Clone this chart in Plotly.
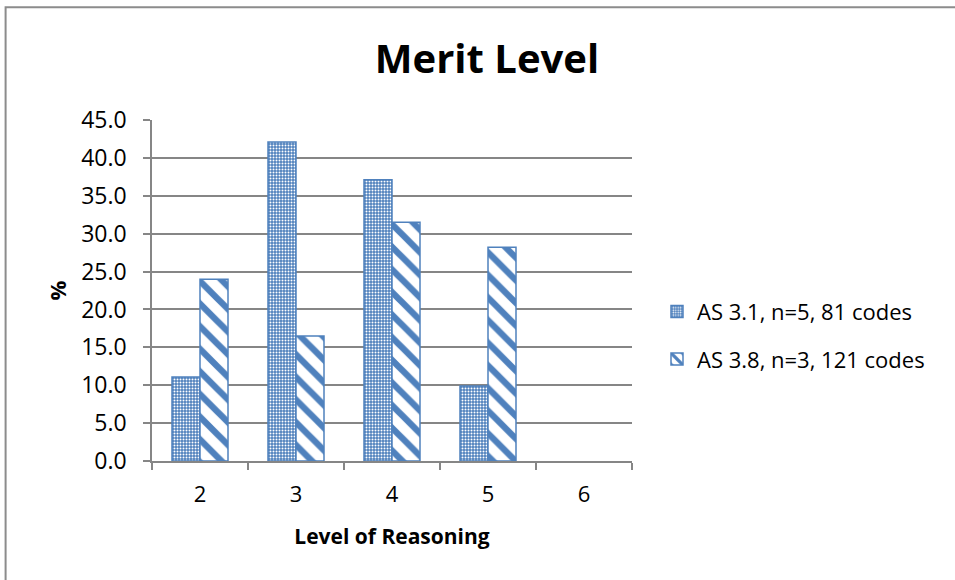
import plotly.graph_objects as go

# Share of codes at each level of reasoning (%)
levels = ["2", "3", "4", "5", "6"]
as31_values = [11.1, 42.1, 37.1, 9.9, None]
as38_values = [24.0, 16.5, 31.5, 28.2, None]
series_names = ["AS 3.1, n=5, 81 codes", "AS 3.8, n=3, 121 codes"]
y_ticks = [0, 5, 10, 15, 20, 25, 30, 35, 40, 45]

BLUE = "#4F81BD"
GRID = "#868686"
FONT = "Open Sans"

fig = go.Figure()

fig.add_trace(go.Bar(
    x=levels, y=as31_values, name=series_names[0], legendgroup="a",
    marker=dict(
        color=BLUE,
        line=dict(color=BLUE, width=1.5),
        pattern=dict(shape=".", fgcolor="white", bgcolor=BLUE,
                     size=3, solidity=0.35, fillmode="replace"),
    ),
))
fig.add_trace(go.Bar(
    x=levels, y=as38_values, name=series_names[1], legendgroup="b",
    marker=dict(
        color="white",
        line=dict(color=BLUE, width=1.5),
        pattern=dict(shape="\\", fgcolor=BLUE, bgcolor="white",
                     size=16, solidity=0.4, fillmode="replace"),
    ),
))

# Chart-area frame
fig.add_shape(type="rect", xref="paper", yref="paper",
              x0=-0.305, x1=1.7, y0=-0.4, y1=1.331,
              line=dict(color="#8c8c8c", width=2), fillcolor="rgba(0,0,0,0)",
              layer="below")

fig.update_layout(
    width=955, height=580,
    margin=dict(l=152, r=323, t=120, b=119),
    paper_bgcolor="white", plot_bgcolor="white",
    font=dict(family=FONT, color="black", size=21),
    title=dict(text="<b>Merit Level</b>", x=(487 - 152) / 480, xref="paper",
               xanchor="center", y=1 - 59 / 580, yanchor="middle",
               font=dict(family=FONT, size=40, color="black")),
    barmode="group", bargap=40 / 96, bargroupgap=0,
    showlegend=True,
    legend=dict(x=(657 - 152) / 480, xanchor="left", y=(461 - 336) / 340,
                yanchor="middle", tracegroupgap=16,
                font=dict(family=FONT, size=22, color="black"),
                bgcolor="rgba(0,0,0,0)"),
    xaxis=dict(
        type="category", range=[-0.5, 4.5],
        title=dict(text="<b>Level of Reasoning</b>", standoff=22,
                   font=dict(family=FONT, size=21)),
        showline=True, linecolor=GRID, linewidth=1.5,
        ticks="outside", ticklen=7, tickcolor=GRID, tickwidth=1.5,
        tickson="boundaries", ticklabelstandoff=13,
        showgrid=False, tickfont=dict(family=FONT, size=22),
    ),
    yaxis=dict(
        range=[0, 45], tickvals=y_ticks,
        ticktext=[f"{v:.1f}" for v in y_ticks],
        title=dict(text="<b>%</b>", standoff=8,
                   font=dict(family=FONT, size=22)),
        showline=True, linecolor=GRID, linewidth=1.5,
        ticks="outside", ticklen=7, tickcolor=GRID, tickwidth=1.5,
        showgrid=True, gridcolor=GRID, gridwidth=1.5,
        zeroline=False, ticklabelstandoff=12,
        tickfont=dict(family=FONT, size=23),
    ),
)

fig.write_html("out.html")
